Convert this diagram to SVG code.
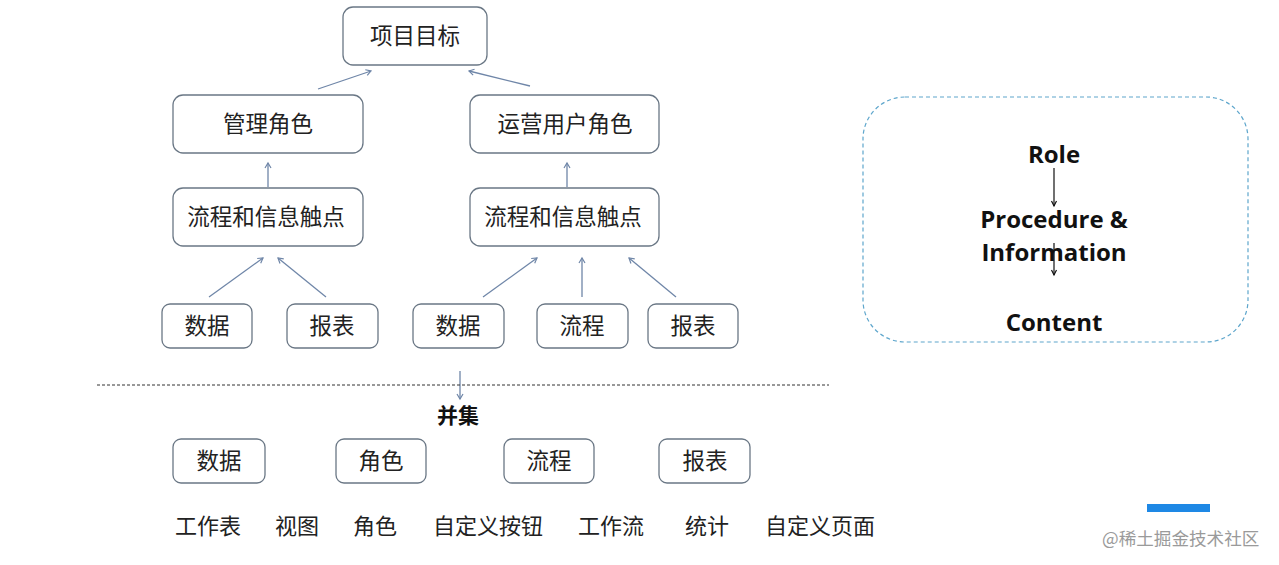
<svg xmlns="http://www.w3.org/2000/svg" width="1279" height="565" viewBox="0 0 1279 565">
<defs>
<marker id="ah" markerWidth="8" markerHeight="8" refX="6" refY="4" orient="auto" markerUnits="userSpaceOnUse">
<path d="M1,1 L6,4 L1,7" fill="none" stroke="#6f86a8" stroke-width="1.2"/>
</marker>
<marker id="ahk" markerWidth="8" markerHeight="8" refX="6" refY="4" orient="auto" markerUnits="userSpaceOnUse">
<path d="M1,1.5 L6,4 L1,6.5" fill="none" stroke="#111" stroke-width="1.2"/>
</marker>
<style>
.box{fill:#fff;stroke:#6a7785;stroke-width:1.3}
.t{font-family:"Noto Sans CJK SC","Noto Sans",sans-serif;font-size:22.5px;fill:#222;text-anchor:middle}
.tl{font-family:"Noto Sans CJK SC","Noto Sans",sans-serif;font-size:22px;fill:#222}
.c{stroke:#6f86a8;stroke-width:1.3;fill:none;marker-end:url(#ah)}
.ck{stroke:#111;stroke-width:1.2;fill:none;marker-end:url(#ahk)}
.en{font-family:"Open Sans","Noto Sans",sans-serif;font-weight:bold;font-size:24px;fill:#111;text-anchor:middle}
</style>
</defs>
<rect width="1279" height="565" fill="#fff"/>

<g id="connectors">
<line class="c" x1="318" y1="89" x2="371" y2="71"/>
<line class="c" x1="530" y1="86" x2="469" y2="71"/>
<line class="c" x1="268" y1="187" x2="268" y2="163"/>
<line class="c" x1="567" y1="187" x2="567" y2="163"/>
<line class="c" x1="209" y1="297" x2="263" y2="258"/>
<line class="c" x1="326" y1="297" x2="278" y2="258"/>
<line class="c" x1="483" y1="297" x2="537" y2="258"/>
<line class="c" x1="582" y1="297" x2="582" y2="258"/>
<line class="c" x1="676" y1="297" x2="629" y2="258"/>
<line class="c" x1="460" y1="371" x2="460" y2="399"/>
<line x1="97" y1="385" x2="829" y2="385" stroke="#333" stroke-width="1" stroke-dasharray="3,2"/>
</g>

<g id="n-goal"><rect class="box" x="343" y="7" width="144" height="58" rx="10"/><text class="t" x="415" y="44">项目目标</text></g>
<g id="n-mgr"><rect class="box" x="173" y="95" width="190" height="58" rx="10"/><text class="t" x="268" y="132">管理角色</text></g>
<g id="n-ops"><rect class="box" x="470" y="95" width="189" height="58" rx="10"/><text class="t" x="565" y="132">运营用户角色</text></g>
<g id="n-flow1"><rect class="box" x="173" y="188" width="190" height="58" rx="10"/><text class="t" x="266" y="225">流程和信息触点</text></g>
<g id="n-flow2"><rect class="box" x="470" y="188" width="189" height="58" rx="10"/><text class="t" x="563" y="225">流程和信息触点</text></g>

<g id="n-a1"><rect class="box" x="162" y="304" width="90" height="44" rx="8"/><text class="t" x="207" y="334">数据</text></g>
<g id="n-a2"><rect class="box" x="287" y="304" width="91" height="44" rx="8"/><text class="t" x="332" y="334">报表</text></g>
<g id="n-b1"><rect class="box" x="413" y="304" width="91" height="44" rx="8"/><text class="t" x="458" y="334">数据</text></g>
<g id="n-b2"><rect class="box" x="537" y="304" width="91" height="44" rx="8"/><text class="t" x="582" y="334">流程</text></g>
<g id="n-b3"><rect class="box" x="648" y="304" width="90" height="44" rx="8"/><text class="t" x="693" y="334">报表</text></g>

<g id="n-union"><text x="458" y="423" style="font-family:'Noto Sans CJK SC',sans-serif;font-weight:bold;font-size:21px;fill:#111;text-anchor:middle">并集</text></g>

<g id="n-c1"><rect class="box" x="173" y="439" width="92" height="44" rx="8"/><text class="t" x="219" y="469">数据</text></g>
<g id="n-c2"><rect class="box" x="336" y="439" width="90" height="44" rx="8"/><text class="t" x="381" y="469">角色</text></g>
<g id="n-c3"><rect class="box" x="504" y="439" width="90" height="44" rx="8"/><text class="t" x="549" y="469">流程</text></g>
<g id="n-c4"><rect class="box" x="659" y="439" width="91" height="44" rx="8"/><text class="t" x="705" y="469">报表</text></g>

<g id="labels">
<text class="tl" x="175" y="534">工作表</text>
<text class="tl" x="275" y="534">视图</text>
<text class="tl" x="353" y="534">角色</text>
<text class="tl" x="433" y="534">自定义按钮</text>
<text class="tl" x="578" y="534">工作流</text>
<text class="tl" x="685" y="534">统计</text>
<text class="tl" x="765" y="534">自定义页面</text>
</g>

<g id="n-legend">
<rect x="863" y="97" width="385" height="245" rx="42" fill="#fff" stroke="#5ea6cc" stroke-width="1.2" stroke-dasharray="4,3"/>
<text class="en" x="1054" y="163">Role</text>
<text class="en" x="1054" y="228">Procedure &amp;</text>
<text class="en" x="1054" y="261">Information</text>
<text class="en" x="1054" y="331">Content</text>
<line class="ck" x1="1054" y1="168" x2="1054" y2="206"/>
<line class="ck" x1="1054" y1="243" x2="1054" y2="275"/>
</g>

<g id="watermark">
<rect x="1147" y="504" width="63" height="8" fill="#1e88e5"/>
<text x="1102" y="545" style="font-family:'Noto Sans CJK SC',sans-serif;font-size:17.6px;fill:#9a9a9a">@稀土掘金技术社区</text>
</g>
</svg>
